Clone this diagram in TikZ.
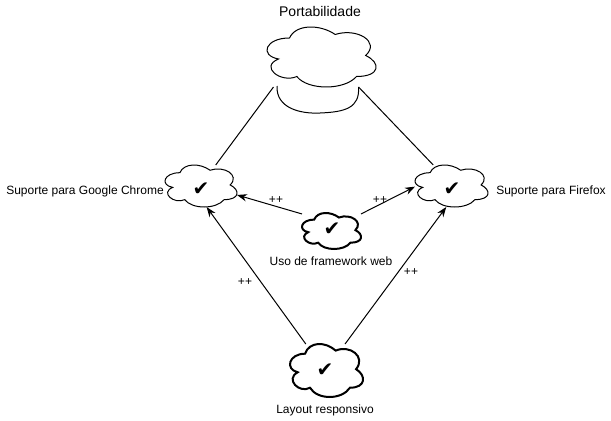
\documentclass[tikz,border=0pt]{standalone}
\usepackage{fontspec}
\setmainfont{Liberation Sans}
\newfontfamily\symfont{DejaVu Sans}
\usetikzlibrary{arrows.meta}
\newcommand\cloudfor[4]{%
  \begin{scope}[shift={(#1.north west)},
      x={({#2/0.895*0.75pt},0pt)}, y={(0pt,{-#3/0.857*0.75pt})},
      shift={(-0.065,-0.093)}]
    \draw[line width=#4, fill=white]
      (0.25,0.25) .. controls (0.05,0.25) and (0,0.5) .. (0.16,0.55)
      .. controls (0,0.66) and (0.18,0.9) .. (0.31,0.8)
      .. controls (0.4,1) and (0.7,1) .. (0.8,0.8)
      .. controls (1,0.8) and (1,0.6) .. (0.875,0.5)
      .. controls (1,0.3) and (0.8,0.1) .. (0.625,0.2)
      .. controls (0.5,0.05) and (0.3,0.05) .. (0.25,0.25) -- cycle;
  \end{scope}}
\tikzset{
  cloudbox/.style={rectangle, inner sep=0pt, outer sep=0pt,
    font=\symfont\fontsize{15}{15}\selectfont},
  lbl/.style={font=\fontsize{9}{11}\selectfont, inner sep=1pt},
  conn/.style={line width=0.75pt},
  arr/.style={line width=0.75pt, -{Stealth[length=7.5pt,width=5.5pt]}}
}
\begin{document}
\begin{tikzpicture}[x=0.75pt,y=-0.75pt]
\useasboundingbox (0,0) rectangle (611,421);
% nodes
\node[cloudbox, minimum width=81.75pt, minimum height=45pt] (top) at (321.5,57) {};
\node[cloudbox, minimum width=54pt, minimum height=31.5pt] (chrome) at (201,186) {};
\node[cloudbox, minimum width=54.75pt, minimum height=31.5pt] (firefox) at (451.5,186) {};
\node[cloudbox, minimum width=44.25pt, minimum height=27pt] (uso) at (331.5,231) {};
\node[cloudbox, minimum width=54.75pt, minimum height=39.75pt] (layout) at (326.5,370.5) {};
% top goal lower part and cloud
\draw[conn, fill=white] (277,86) .. controls (276,108) and (300,114) .. (320,113)
  .. controls (345,112) and (360,108) .. (358.5,87);
\cloudfor{top}{109}{60}{0.75pt}
\cloudfor{chrome}{72}{42}{0.75pt}
\cloudfor{firefox}{73}{42}{0.75pt}
\cloudfor{uso}{59}{36}{1.5pt}
\cloudfor{layout}{73}{53}{1.5pt}
% check marks
\node[cloudbox] (chk1) at (201,189) {✔};
\node[cloudbox] (chk2) at (452,189) {✔};
\node[cloudbox] (chk3) at (332,229) {✔};
\node[cloudbox] (chk4) at (325,370) {✔};
% labels
\node[lbl, font=\fontsize{10.5}{12}\selectfont] (ptit) at (320,11) {Portabilidade};
\node[lbl] (lchrome) at (85,191) {Suporte para Google Chrome};
\node[lbl] (lfirefox) at (551,191) {Suporte para Firefox};
\node[lbl] (luso) at (331,261) {Uso de framework web};
\node[lbl] (llayout) at (325,410) {Layout responsivo};
% connectors
\draw[conn] (top.212) -- (chrome.55);
\draw[conn] (top.-39) -- (firefox.131.6);
\draw[arr] (uso.150.7) -- (chrome.-14);
\draw[arr] (uso.30.8) -- (firefox.181.7);
\draw[arr] (layout.128) -- (chrome.-75);
\draw[arr] (layout.55.1) -- (firefox.-104);
% contribution labels
\node[lbl] (p1) at (276,200) {++};
\node[lbl] (p2) at (380,200) {++};
\node[lbl] (p3) at (245,282) {++};
\node[lbl] (p4) at (411,272) {++};
\end{tikzpicture}
\end{document}
